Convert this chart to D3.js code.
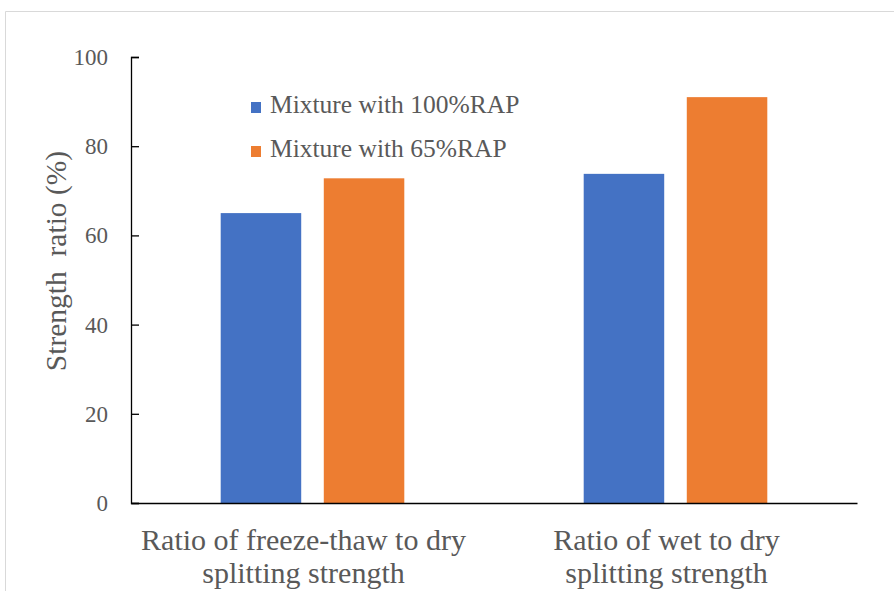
<!DOCTYPE html>
<html>
<head>
<meta charset="utf-8">
<script src="https://cdn.jsdelivr.net/npm/d3@7"></script>
<style>
  body { margin: 0; background: #fff; }
</style>
</head>
<body>
<div id="chart"></div>
<script>
var categories = ["Ratio of freeze-thaw to dry|splitting strength", "Ratio of wet to dry|splitting strength"];
var seriesNames = ["Mixture with 100%RAP", "Mixture with 65%RAP"];
var seriesColors = ["#4472C4", "#ED7D31"];
var values100 = [65, 73.8];
var values65 = [72.8, 91];
var yTicks = [0, 20, 40, 60, 80, 100];

var FONT = "'Liberation Serif'";
var TEXT_COLOR = "#595959";

function drawChart() {
    var svgwidth = 894, svgheight = 591;
    var plotLeft = 131, plotRight = 857, plotTop = 57, plotBottom = 503;

    var svg = d3.select("#chart").append("svg")
        .attr("width", svgwidth)
        .attr("height", svgheight);

    // frame of the chart area
    svg.append("path")
        .attr("d", "M5.5," + svgheight + "V11.5H" + svgwidth)
        .attr("fill", "none")
        .attr("stroke", "#d9d9d9")
        .attr("stroke-width", 1);

    var data = categories.map(function (c, i) {
        return { cat: c, vals: [values100[i], values65[i]] };
    });

    var x0 = d3.scaleBand().domain(categories).range([plotLeft, plotRight]).padding(0);
    var x1 = d3.scaleBand().domain([0, 1]).range([-91.8, 91.8]).paddingInner(0.219);
    var yScale = d3.scaleLinear().domain([0, 100]).range([plotBottom, plotTop]);

    // bars
    var groups = svg.selectAll("g.grp").data(data).enter().append("g")
        .attr("class", "grp")
        .attr("transform", function (d) { return "translate(" + (x0(d.cat) + x0.bandwidth() / 2) + ",0)"; });

    groups.selectAll("rect")
        .data(function (d) { return d.vals; })
        .enter().append("rect")
        .attr("x", function (d, i) { return x1(i); })
        .attr("width", x1.bandwidth())
        .attr("y", function (d) { return yScale(d); })
        .attr("height", function (d) { return plotBottom - yScale(d); })
        .attr("fill", function (d, i) { return seriesColors[i]; });

    // y axis, ticks pointing inward
    var yAxis = d3.axisRight(yScale).tickValues(yTicks).tickSize(8).tickFormat(d3.format("d"));
    var yg = svg.append("g").attr("transform", "translate(" + plotLeft + ",0)").call(yAxis);
    yg.select(".domain").attr("stroke", "#000").attr("stroke-width", 1.3);
    yg.selectAll(".tick line").attr("stroke", "#000").attr("stroke-width", 1.3);
    yg.selectAll(".tick text")
        .attr("x", -23)
        .attr("text-anchor", "end")
        .attr("dy", "0.33em")
        .style("font-family", FONT)
        .style("font-size", "23px")
        .attr("fill", TEXT_COLOR);

    // x axis line
    var xg = svg.append("g").attr("transform", "translate(0," + plotBottom + ")")
        .call(d3.axisBottom(x0).tickSize(0).tickFormat(""));
    xg.select(".domain").attr("stroke", "#000").attr("stroke-width", 1.3);

    // category labels (two lines), sit a bit left of the group centre
    categories.forEach(function (c) {
        var lines = c.split("|");
        var t = svg.append("text")
            .attr("text-anchor", "middle")
            .style("font-family", FONT)
            .style("font-size", "30px")
            .attr("fill", TEXT_COLOR);
        lines.forEach(function (l, k) {
            t.append("tspan")
                .attr("x", x0(c) + x0.bandwidth() / 2 - 9)
                .attr("y", 550 + k * 33)
                .text(l);
        });
    });

    // y axis title
    svg.append("text")
        .attr("transform", "translate(66,261) rotate(-90)")
        .attr("text-anchor", "middle")
        .style("font-family", FONT)
        .style("font-size", "29.5px")
        .style("white-space", "pre")
        .attr("fill", TEXT_COLOR)
        .text("Strength  ratio (%)");

    // legend
    seriesNames.forEach(function (s, i) {
        var ly = 113 + i * 44;
        svg.append("rect")
            .attr("x", 251).attr("y", ly - 11)
            .attr("width", 10).attr("height", 11)
            .attr("fill", seriesColors[i]);
        svg.append("text")
            .attr("x", 270).attr("y", ly)
            .style("font-family", FONT)
            .style("font-size", "25.5px")
            .attr("fill", TEXT_COLOR)
            .text(s);
    });
}

drawChart();
</script>
</body>
</html>
